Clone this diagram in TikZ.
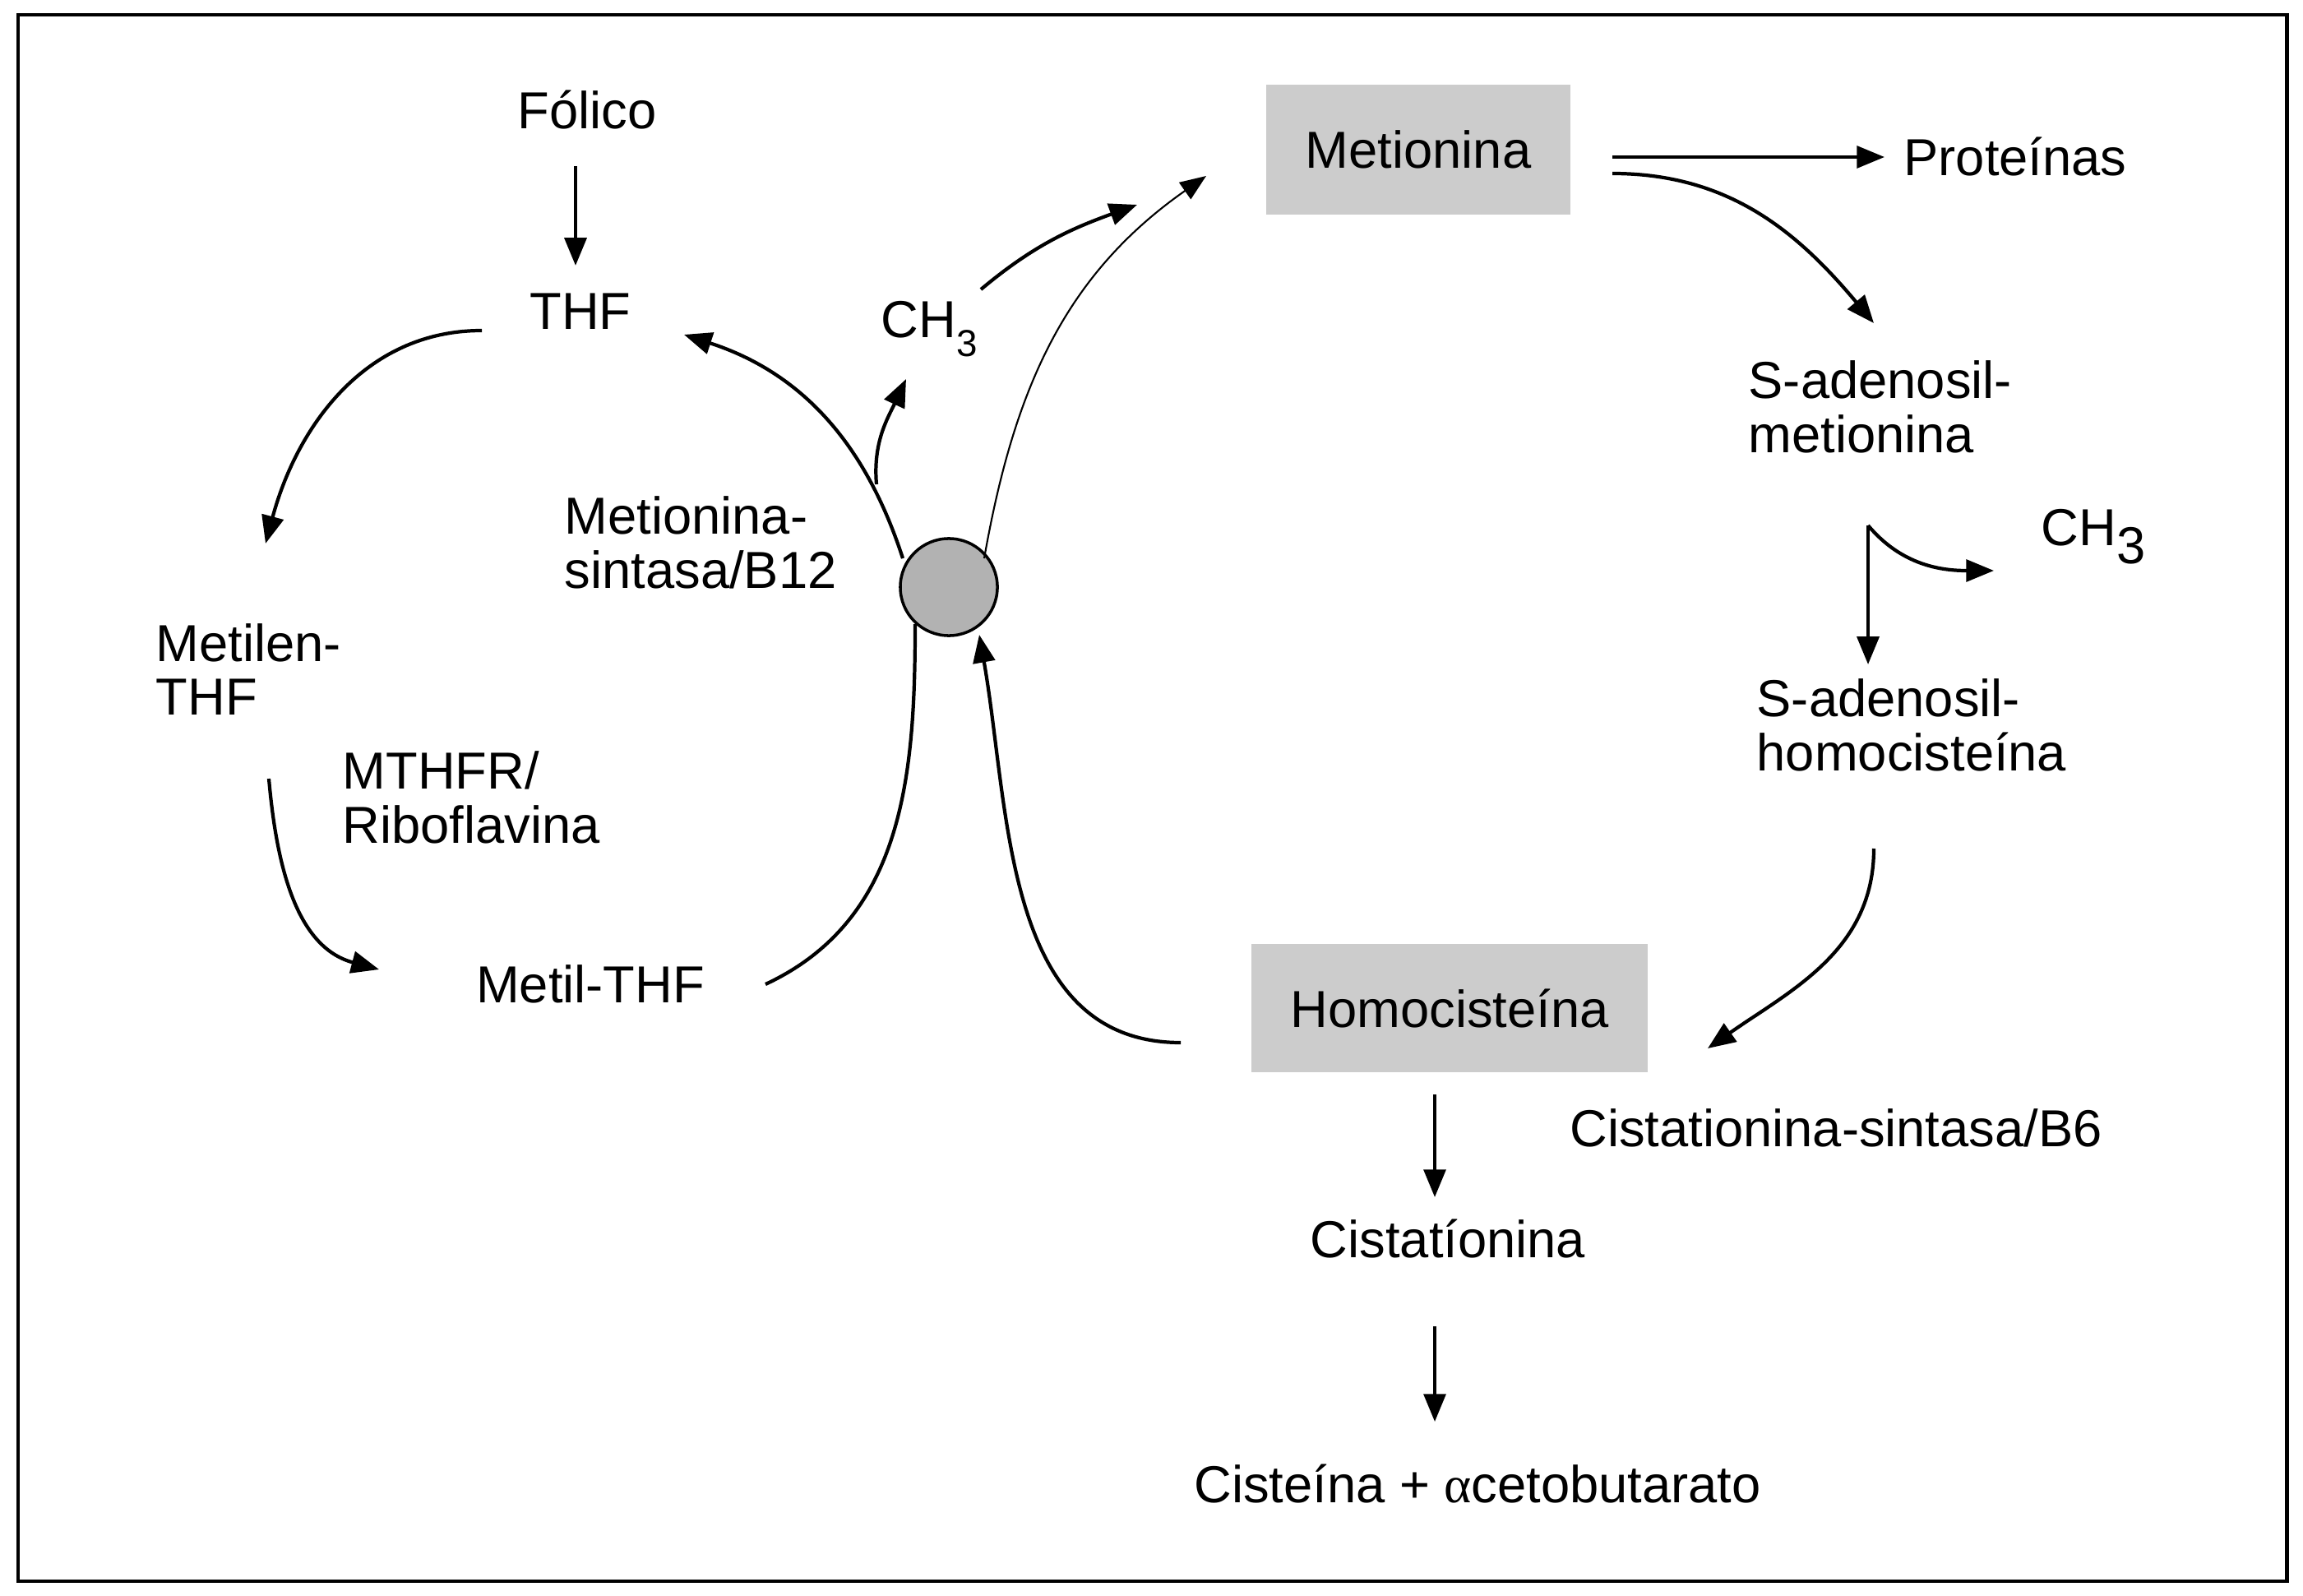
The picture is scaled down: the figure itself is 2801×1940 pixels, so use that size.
\documentclass[tikz,border=0pt]{standalone}
\usepackage{fontspec}
\setmainfont{Liberation Sans}
\newfontfamily\greekserif{Liberation Serif}
\usetikzlibrary{arrows.meta,positioning}
\definecolor{boxgray}{RGB}{204,204,204}
\definecolor{dotgray}{RGB}{178,178,178}

\begin{document}
\begin{tikzpicture}[x=0.01cm,y=-0.01cm,
  txt/.style={inner sep=0pt,align=left,font=\fontsize{18}{18.7}\selectfont},
  gbox/.style={txt,fill=boxgray,align=center},
  arr/.style={-{Triangle[length=9.6pt,width=7.6pt]},line width=1.2pt},
  thinarr/.style={-{Triangle[length=9pt,width=7pt]},line width=0.6pt},
  plain/.style={line width=1.2pt}]
\useasboundingbox (0,0) rectangle (2801,1940);
\draw[line width=1.4pt] (22,18) rectangle (2781,1923);

% left cycle
\node[txt] at (714,134) (folico) {Fólico};
\node[txt] at (706,379) (thf) {THF};
\node[txt,anchor=west] at (189,814) (metilen) {Metilen-\\THF};
\node[txt,anchor=west] at (416,970) (mthfr) {MTHFR/\\Riboflavina};
\node[txt] at (718,1197) (metil) {Metil-THF};
\node[txt,anchor=west] at (686,660) (msint) {Metionina-\\sintasa/B12};
\node[txt,anchor=base west] at (1071,411) (ch3a) {CH\raisebox{-6.5pt}{\fontsize{13}{13}\selectfont 3}};
\node[circle,draw,line width=1pt,fill=dotgray,minimum size=1.18cm,inner sep=0pt] at (1154,714) (b12) {};

% right cycle
\node[gbox,minimum width=3.7cm,minimum height=1.57cm] at (1725,182) (met) {Metionina};
\node[txt] at (2451,191) (prot) {Proteínas};
\node[txt,anchor=west] at (2126,495) (sam) {S-adenosil-\\metionina};
\node[txt,anchor=base west] at (2482,663) (ch3b) {CH\raisebox{-6.5pt}{3}};
\node[txt,anchor=west] at (2136,882) (sah) {S-adenosil-\\homocisteína};
\node[gbox,minimum width=4.82cm,minimum height=1.56cm] at (1763,1226) (hcy) {Homocisteína};
\node[txt] at (2233,1372) (cbs) {Cistationina-sintasa/B6};
\node[txt] at (1761,1506) (cist) {Cistatíonina};
\node[txt] at (1797,1804) (cys) {Cisteína + {\greekserif α}cetobutarato};

\coordinate (a1) at (700,202);
\coordinate (a2) at (700,323);
\coordinate (b1) at (586,402);
\coordinate (b2) at (323,661);
\coordinate (c1) at (327,947);
\coordinate (c2) at (461,1179);
\coordinate (d1) at (931,1197);
\coordinate (d2) at (1113,759);
\coordinate (e1) at (1098,679);
\coordinate (e2) at (832,407);
\coordinate (f1) at (1066,589);
\coordinate (f2) at (1102,461);
\coordinate (g1) at (1193,352);
\coordinate (g2) at (1383,249);
\coordinate (h1) at (1197,679);
\coordinate (h2) at (1467,214);
\coordinate (i1) at (1436,1268);
\coordinate (i2) at (1191,772);
\coordinate (j1) at (1961,191);
\coordinate (j2) at (2292,191);
\coordinate (k1) at (1961,211);
\coordinate (k2) at (2279,393);
\coordinate (l1) at (2272,639);
\coordinate (l2) at (2272,808);
\coordinate (m2) at (2425,694);
\coordinate (n1) at (2279,1032);
\coordinate (n2) at (2077,1275);
\coordinate (o1) at (1745,1331);
\coordinate (o2) at (1745,1456);
\coordinate (p1) at (1745,1613);
\coordinate (p2) at (1745,1729);

\draw[arr] (a1) -- (a2);
\draw[arr] (b1) to[out=180,in=75] (b2);
\draw[arr] (c1) to[out=-85,in=165] (c2);
\draw[plain] (d1) to[out=25,in=-90] (d2);
\draw[arr] (e1) to[out=108,in=-18] (e2);
\draw[arr] (f1) to[out=95,in=-115] (f2);
\draw[arr] (g1) to[out=40,in=200] (g2);
\draw[thinarr] (h1) to[out=80,in=215] (h2);
\draw[arr] (i1) to[out=180,in=-80] (i2);
\draw[arr] (j1) -- (j2);
\draw[arr] (k1) to[out=0,in=130] (k2);
\draw[arr] (l1) -- (l2);
\draw[arr] (l1) to[out=-50,in=180] (m2);
\draw[arr] (n1) to[out=-90,in=35] (n2);
\draw[arr] (o1) -- (o2);
\draw[arr] (p1) -- (p2);
\end{tikzpicture}
\end{document}
